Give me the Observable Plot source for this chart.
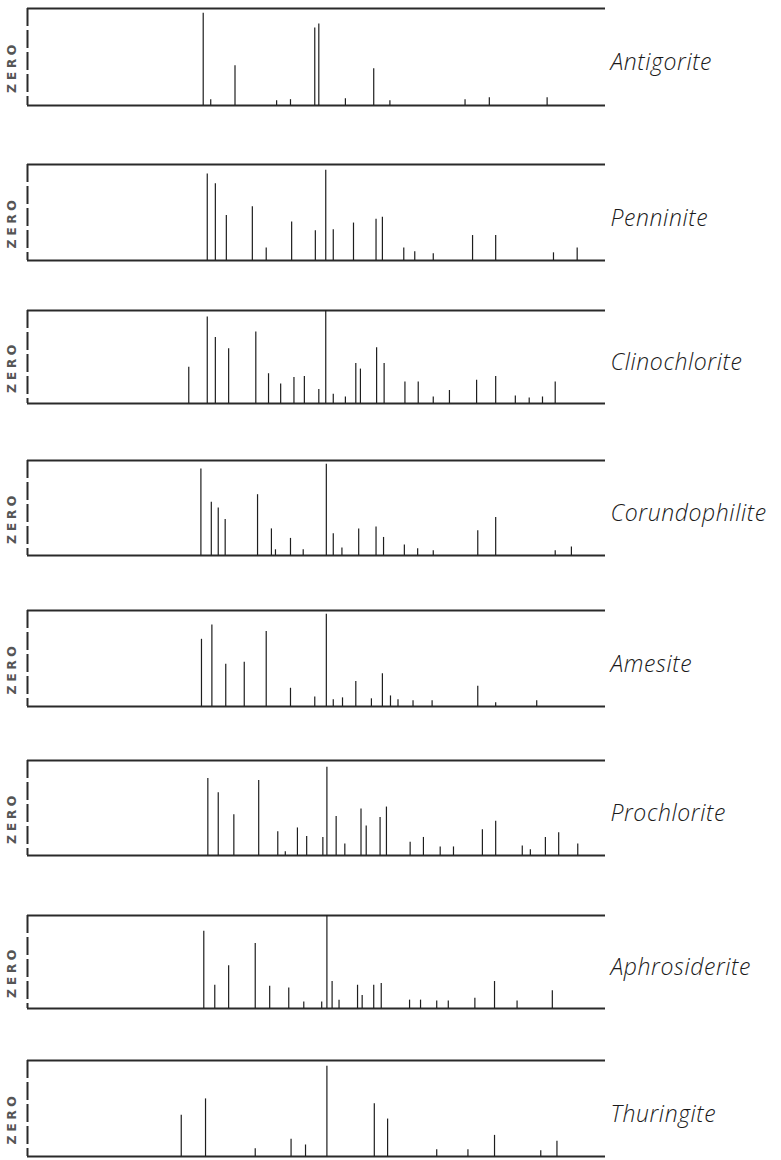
<!DOCTYPE html>
<html>
<head>
<meta charset="utf-8">
<script src="https://cdn.jsdelivr.net/npm/d3@7"></script>
<script src="https://cdn.jsdelivr.net/npm/@observablehq/plot@0.6"></script>
<style>
  body { margin: 0; background: #ffffff; }
  #chart { position: relative; width: 781px; height: 1160px; overflow: hidden; }
  .panel { position: absolute; left: 0; }
</style>
</head>
<body>
<div id="chart"></div>
<script>
// Line positions (relative scale, 0–100 across the strip) and intensities (% of strip height)
const antigoritePos = [30.4, 31.7, 35.9, 43.1, 45.5, 49.7, 50.4, 55.0, 59.9, 62.7, 75.7, 79.9, 89.9];
const antigoriteInt = [95, 6, 41, 5, 6, 80, 84, 7, 38, 5, 6, 8, 8];

const penninitePos = [31.1, 32.5, 34.4, 38.9, 41.3, 45.7, 49.8, 51.6, 52.9, 56.4, 60.3, 61.4, 65.1, 67.0, 70.2, 77.0, 81.0, 91.0, 95.1];
const penniniteInt = [90, 80, 47, 56, 13, 40, 31, 94, 32, 39, 43, 45, 13, 9, 7, 26, 26, 8, 13];

const clinochloritePos = [27.9, 31.1, 32.5, 34.8, 39.5, 41.7, 43.8, 46.1, 47.9, 50.4, 51.6, 52.9, 55.0, 56.8, 57.6, 60.4, 61.7, 65.3, 67.6, 70.2, 73.0, 77.7, 81.0, 84.4, 86.8, 89.1, 91.3];
const clinochloriteInt = [39, 93, 71, 59, 77, 32, 21, 28, 29, 15, 100, 10, 7, 43, 37, 60, 43, 23, 23, 7, 14, 25, 29, 8, 6, 7, 23];

const corundophilitePos = [30.0, 31.8, 33.0, 34.2, 39.8, 42.2, 42.9, 45.5, 47.7, 51.7, 52.9, 54.4, 57.3, 60.3, 61.6, 65.2, 67.5, 70.2, 77.9, 81.0, 91.3, 94.1];
const corundophiliteInt = [91, 56, 50, 38, 64, 28, 6, 18, 6, 96, 23, 8, 28, 30, 19, 11, 7, 5, 26, 40, 5, 9];

const amesitePos = [30.1, 31.9, 34.3, 37.5, 41.3, 45.5, 49.7, 51.7, 52.9, 54.5, 56.8, 59.5, 61.4, 62.8, 64.1, 66.7, 70.0, 77.9, 81.0, 88.1];
const amesiteInt = [70, 85, 44, 46, 78, 19, 10, 96, 7, 9, 26, 8, 34, 11, 7, 6, 6, 21, 4, 6];

const prochloritePos = [31.2, 33.0, 35.7, 40.0, 43.3, 44.6, 46.7, 48.3, 51.1, 51.8, 53.4, 54.9, 57.7, 58.6, 61.0, 62.1, 66.2, 68.5, 71.4, 73.7, 78.7, 81.0, 85.6, 87.0, 89.6, 91.9, 95.2];
const prochloriteInt = [81, 66, 43, 79, 25, 4, 29, 20, 19, 93, 41, 12, 49, 31, 40, 51, 14, 19, 9, 9, 27, 36, 10, 6, 19, 24, 12];

const aphrosideritePos = [30.5, 32.4, 34.8, 39.4, 41.9, 45.2, 47.8, 50.9, 51.8, 52.7, 53.9, 57.1, 57.9, 59.9, 61.2, 66.1, 68.0, 70.8, 72.8, 77.4, 80.8, 84.7, 90.8];
const aphrosideriteInt = [83, 25, 46, 70, 24, 22, 7, 7, 100, 29, 9, 25, 14, 25, 27, 9, 9, 8, 8, 11, 29, 8, 19];

const thuringitePos = [26.6, 30.8, 39.4, 45.6, 48.1, 51.8, 60.0, 62.3, 70.8, 76.2, 80.8, 88.8, 91.6];
const thuringiteInt = [43, 60, 8, 18, 12, 94, 55, 39, 7, 7, 22, 6, 16];

const minerals = ["Antigorite", "Penninite", "Clinochlorite", "Corundophilite", "Amesite", "Prochlorite", "Aphrosiderite", "Thuringite"];
const positions = [antigoritePos, penninitePos, clinochloritePos, corundophilitePos, amesitePos, prochloritePos, aphrosideritePos, thuringitePos];
const intensities = [antigoriteInt, penniniteInt, clinochloriteInt, corundophiliteInt, amesiteInt, prochloriteInt, aphrosideriteInt, thuringiteInt];
const zeroLabel = "ZERO";

// Layout (page pixels) of each strip's frame
const frameTops = [8, 164, 310, 460, 610, 760, 915, 1060];
const frameBottoms = [105, 260, 403, 555, 706, 855, 1008, 1156];

const chart = document.getElementById("chart");
const ink = "#2a2a2a";
const pad = 6;

minerals.forEach((name, i) => {
  const rows = positions[i].map((p, j) => ({pos: p, intensity: intensities[i][j]}));
  const h = frameBottoms[i] - frameTops[i];
  const svg = Plot.plot({
    width: 781,
    height: h + 2 * pad,
    marginTop: pad,
    marginBottom: pad,
    marginLeft: 27,
    marginRight: 176,
    x: {domain: [0, 100], axis: null},
    y: {domain: [0, 100], axis: null},
    style: {background: "transparent", overflow: "visible"},
    marks: [
      Plot.ruleY([0, 100], {stroke: ink, strokeWidth: 2}),
      Plot.ruleX([0], {stroke: ink, strokeWidth: 2, strokeDasharray: "18,4"}),
      Plot.ruleX(rows, {x: "pos", y: "intensity", stroke: "#1e1e1e", strokeWidth: 1.2}),
      Plot.text([name], {
        text: d => d, frameAnchor: "right", textAnchor: "start", lineAnchor: "middle",
        dx: 5, dy: 6, fontSize: 23, fontStyle: "italic", fontWeight: 300,
        fontFamily: "Open Sans", fill: "#1a1a1a"
      }),
      Plot.text([zeroLabel], {
        text: d => d, frameAnchor: "left", textAnchor: "middle", lineAnchor: "middle",
        rotate: -90, dx: -16, dy: 10, fontSize: 12.5, fontWeight: "bold",
        fontFamily: "DejaVu Sans", fill: "#555"
      })
    ]
  });
  d3.select(svg).selectAll("text")
    .filter(function() { return this.textContent === zeroLabel; })
    .attr("letter-spacing", 3.5);
  d3.select(svg).selectAll("text")
    .filter(function() { return this.textContent === name; })
    .attr("letter-spacing", 0.6);
  svg.classList.add("panel");
  svg.style.top = (frameTops[i] - pad) + "px";
  chart.appendChild(svg);
});
</script>
</body>
</html>
